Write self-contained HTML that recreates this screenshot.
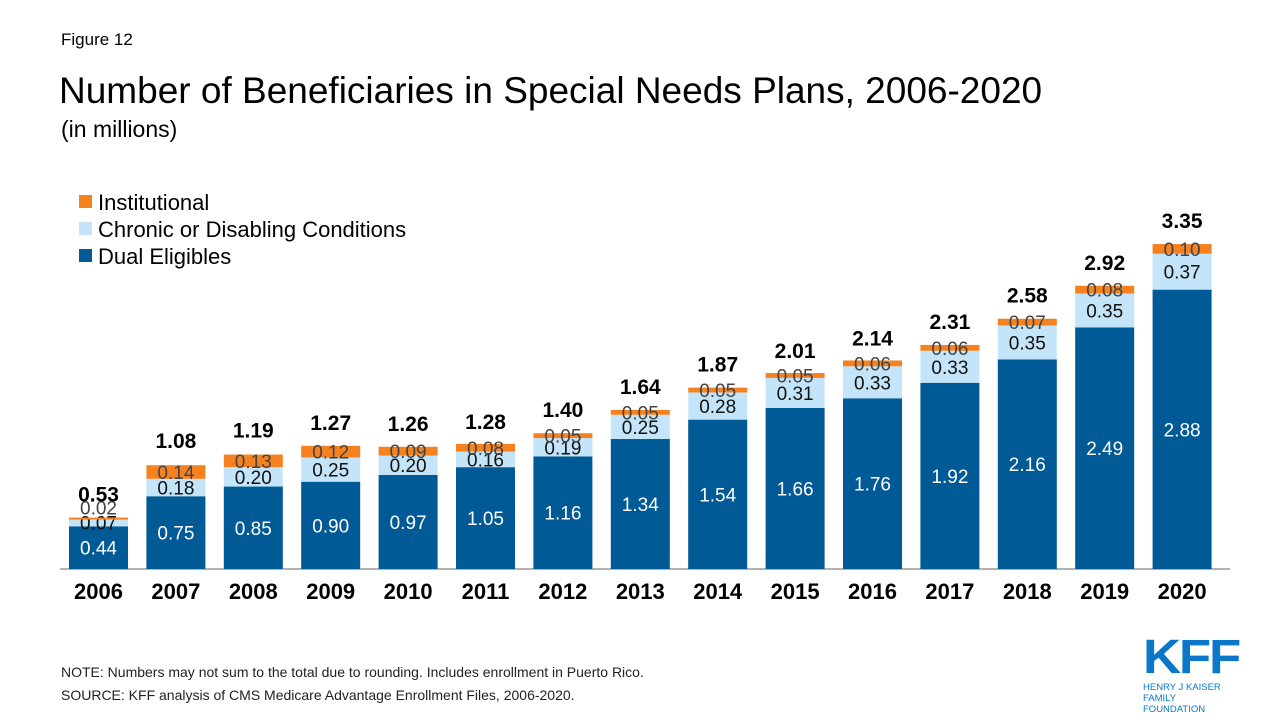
<!DOCTYPE html>
<html><head><meta charset="utf-8"><style>
body{margin:0;background:#fff;font-family:"Liberation Sans",Arial,sans-serif}
#wrap{position:relative;width:1280px;height:720px;overflow:hidden}
.t{position:absolute;white-space:nowrap;color:#000}
</style></head><body>
<div id="wrap">
<div class="t" style="left:61px;top:30px;font-size:17px">Figure 12</div>
<div class="t" style="left:59px;top:70px;font-size:37px">Number of Beneficiaries in Special Needs Plans, 2006-2020</div>
<div class="t" style="left:61px;top:116px;font-size:23px">(in millions)</div>
<svg id="chart" width="1280" height="720" style="position:absolute;left:0;top:0"></svg>
<div class="t" style="left:61px;top:664px;font-size:14px;color:#222">NOTE: Numbers may not sum to the total due to rounding. Includes enrollment in Puerto Rico.</div>
<div class="t" style="left:61px;top:687px;font-size:14px;color:#222">SOURCE: KFF analysis of CMS Medicare Advantage Enrollment Files, 2006-2020.</div>
<div style="position:absolute;left:1143px;top:636px;width:95px;color:#0a77c9">
<div style="font-family:'Liberation Sans',sans-serif;font-weight:bold;font-size:48px;line-height:44px;letter-spacing:-2px;transform:scaleX(1.1);transform-origin:left">KFF</div>
<div style="font-size:9.5px;line-height:11px;margin-top:2px">HENRY J KAISER<br>FAMILY FOUNDATION</div>
</div>
</div>
<script>
const years=["2006","2007","2008","2009","2010","2011","2012","2013","2014","2015","2016","2017","2018","2019","2020"];
const dual=[0.44,0.75,0.85,0.90,0.97,1.05,1.16,1.34,1.54,1.66,1.76,1.92,2.16,2.49,2.88];
const chronic=[0.07,0.18,0.20,0.25,0.20,0.16,0.19,0.25,0.28,0.31,0.33,0.33,0.35,0.35,0.37];
const inst=[0.02,0.14,0.13,0.12,0.09,0.08,0.05,0.05,0.05,0.05,0.06,0.06,0.07,0.08,0.10];
const totals=[0.53,1.08,1.19,1.27,1.26,1.28,1.40,1.64,1.87,2.01,2.14,2.31,2.58,2.92,3.35];
const NS="http://www.w3.org/2000/svg";
const svg=document.getElementById('chart');
const base=569,scale=97,x0=98.5,step=77.4,bw=59;
const y=v=>base-v*scale;
const xc=i=>x0+i*step;
function mk(tag,attrs,txt){const e=document.createElementNS(NS,tag);for(const k in attrs)e.setAttribute(k,attrs[k]);if(txt!==undefined)e.textContent=txt;svg.appendChild(e);return e;}
const series=[{d:dual,c:"#005a96",tc:"#fff",n:"dual"},{d:chronic,c:"#c3e4f9",tc:"#111",n:"chronic"},{d:inst,c:"#f5821f",tc:"#444",n:"institutional"}];
// axis
const ax=mk('line',{x1:60,x2:1230,y1:base,y2:base,stroke:'#999','stroke-width':1.5});


years.forEach((yr,i)=>{
  let cum=0;
  series.forEach(s=>{
    const v=s.d[i];
    const r=mk('rect',{x:xc(i)-bw/2,y:y(cum+v),width:bw,height:v*scale,fill:s.c});
    
    
    let ly=y(cum+v/2)+7;
    if(i===0&&s.n==='chronic')ly=y(cum+v)+10;
    if(i===0&&s.n==='institutional')ly=y(cum+v)-3;
    const t=mk('text',{x:xc(i),y:ly,'text-anchor':'middle','font-size':19,fill:s.tc},v.toFixed(2));
    
    
    cum+=v;
  });
  const tt=mk('text',{x:xc(i),y:y(totals[i])-16,'text-anchor':'middle','font-size':21,'font-weight':'bold'},totals[i].toFixed(2));
  
  
  const xl=mk('text',{x:xc(i),y:599,'text-anchor':'middle','font-size':22,'font-weight':'bold'},yr);
  
  
});
const leg=[["Institutional","#f5821f"],["Chronic or Disabling Conditions","#c3e4f9"],["Dual Eligibles","#005a96"]];
leg.forEach((l,k)=>{
  const ly=202+k*27;
  const r=mk('rect',{x:79,y:ly-7,width:13,height:13,fill:l[1]});
  
  
  const t=mk('text',{x:98,y:ly+8,'font-size':22},l[0]);
  
  
});
</script>
</body></html>
